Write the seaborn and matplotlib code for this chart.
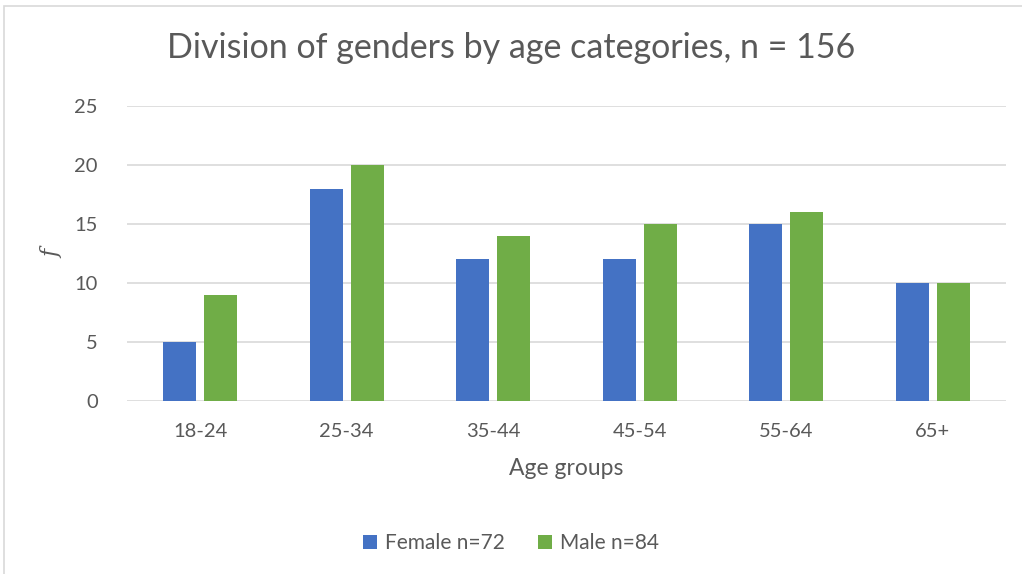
import seaborn as sns
import matplotlib.pyplot as plt
import matplotlib.patches as patches
import pandas as pd

age_groups = ["18-24", "25-34", "35-44", "45-54", "55-64", "65+"]
female = [5, 18, 12, 12, 15, 10]
male = [9, 20, 14, 15, 16, 10]
series_names = ["Female n=72", "Male n=84"]
palette = {"Female n=72": "#4472C4", "Male n=84": "#70AD47"}

df = pd.DataFrame({
    "Age groups": age_groups * 2,
    "f": female + male,
    "gender": [series_names[0]] * len(age_groups) + [series_names[1]] * len(age_groups),
})

sns.set_theme(style="white")
plt.rcParams['font.family'] = ['Lato', 'DejaVu Sans']
text_color = "#595959"

fig = plt.figure(figsize=(10.22, 5.74), dpi=100)
ax = fig.add_axes([127 / 1022, 1 - 401 / 574, 879 / 1022, 295 / 574])

# chart border like the excel chart frame
fig.patches.append(patches.Rectangle((4 / 1022, -0.05), 1.1, 1 - 6 / 574 + 0.05,
                                     transform=fig.transFigure, fill=False,
                                     edgecolor="#D9D9D9", linewidth=1.2))

for y in range(0, 30, 5):
    ax.axhline(y, color="#D9D9D9", linewidth=1.2, zorder=0)

sns.barplot(data=df, x="Age groups", y="f", hue="gender", palette=palette,
            width=0.565, gap=0.2, ax=ax, zorder=2, saturation=1, linewidth=0)

ax.set_ylim(0, 25)
ax.set_xlim(-0.5, 5.5)
ax.set_yticks(range(0, 30, 5))
for s in ax.spines.values():
    s.set_visible(False)
ax.tick_params(length=0, labelsize=14.5, colors=text_color)
ax.tick_params(axis="y", pad=21)
ax.tick_params(axis="x", pad=16)

ax.set_xlabel("Age groups", fontsize=16.5, color=text_color, labelpad=13)
ax.set_ylabel("f", fontsize=16, color=text_color, fontstyle="italic",
              family="DejaVu Serif")
ax.yaxis.set_label_coords(-0.072, 0.5)

fig.text(0.5, 1 - 48 / 574, "Division of genders by age categories, n = 156",
         ha="center", va="center", fontsize=24.5, color=text_color)

handles, labels = ax.get_legend_handles_labels()
ax.legend(handles, labels, loc="center", bbox_to_anchor=(0.5, 31 / 574),
          bbox_transform=fig.transFigure, ncol=2, frameon=False,
          fontsize=15, labelcolor=text_color, handlelength=0.65,
          handleheight=0.65, handletextpad=0.4, columnspacing=1.6)

fig.savefig("out.png", dpi=100, facecolor="white")
